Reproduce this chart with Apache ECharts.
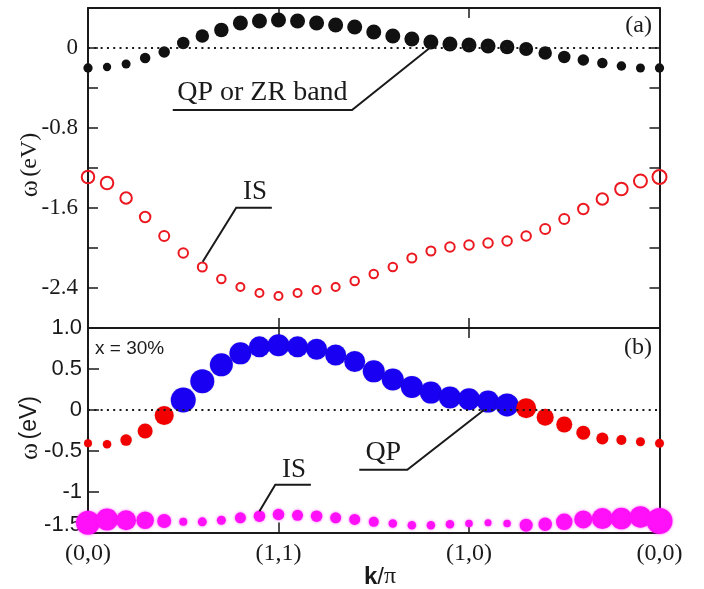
<!DOCTYPE html>
<html><head><meta charset="utf-8">
<script src="https://cdn.jsdelivr.net/npm/echarts@6/dist/echarts.min.js"></script>
<style>html,body{margin:0;padding:0;background:#fff}#c{width:704px;height:589px}</style>
</head><body><div id="c"></div>
<script>
// k-path sample index: (0,0) -> (1,1) -> (1,0) -> (0,0)
const kIndex = [0,1,2,3,4,5,6,7,8,9,10,11,12,13,14,15,16,17,18,19,20,21,22,23,24,25,26,27,28,29,30];
const kTickLabels = ['(0,0)','(1,1)','(1,0)','(0,0)'];
const kTickValues = [0,10,20,30];

// panel (a): QP / ZR band (filled black) and IS (open red)
const aQP = [-0.20,-0.19,-0.16,-0.10,-0.04,0.05,0.12,0.18,0.25,0.27,0.28,0.27,0.25,0.23,0.21,0.16,0.12,0.09,0.06,0.04,0.03,0.02,0.01,-0.01,-0.05,-0.09,-0.12,-0.15,-0.18,-0.20,-0.20];
const aQPWeight = [9.3,8.3,9,10.5,11.5,12.5,13.5,14.5,15,15,15,15,15,15,15,15,15,15,15,15,15,15,14.5,14,13.5,12.5,11.5,10.5,9.5,9,9.3];
const aIS = [-1.29,-1.35,-1.50,-1.69,-1.88,-2.05,-2.19,-2.31,-2.39,-2.45,-2.48,-2.45,-2.42,-2.39,-2.33,-2.26,-2.19,-2.10,-2.03,-1.99,-1.97,-1.95,-1.93,-1.88,-1.81,-1.71,-1.61,-1.51,-1.41,-1.33,-1.29];
const aISWeight = [14.5,14.5,13.5,12.5,12,11.5,11,10.5,10,10,10,10,10,10,10.5,10.5,10.5,11,11,11.5,11.5,11.5,11.5,11.5,12,12,12.5,13.5,14.5,15,16];

// panel (b): x = 30%
const bQP = [-0.41,-0.42,-0.37,-0.26,-0.07,0.12,0.35,0.55,0.69,0.77,0.79,0.77,0.74,0.67,0.59,0.47,0.37,0.28,0.21,0.15,0.13,0.10,0.06,0.02,-0.09,-0.18,-0.28,-0.35,-0.37,-0.39,-0.41];
const bQPWeight = [8,8.5,11.5,15,19,25,24,23,22,21,22,21,21,21,21,22,22,22,22,22,22,22,23,20,17,16,14,12,10,9,9];
const bQPChar = ['r','r','r','r','r','b','b','b','b','b','b','b','b','b','b','b','b','b','b','b','b','b','b','r','r','r','r','r','r','r','r'];
const bIS = [-1.38,-1.34,-1.35,-1.35,-1.36,-1.37,-1.37,-1.35,-1.32,-1.30,-1.28,-1.29,-1.30,-1.32,-1.34,-1.37,-1.39,-1.41,-1.41,-1.40,-1.39,-1.38,-1.39,-1.41,-1.40,-1.37,-1.34,-1.33,-1.33,-1.31,-1.36];
const bISWeight = [24,22,20,17.5,14,8,9,9,11,11.5,11.5,11,11.5,11,11,10,8.5,8.5,8.5,8.5,7.5,7,7.5,13,13.5,16.5,18,21,21.5,21.5,26];

const SERIF = '"Liberation Serif","Times New Roman",serif';
const SANS = '"Liberation Sans",Arial,sans-serif';
const INK = '#1a1a1a';

const chart = echarts.init(document.getElementById('c'), null, {renderer:'canvas'});

const axisLine = {show:true, onZero:false, lineStyle:{color:INK, width:2}};
function xAx(grid, pos, labels){
  return {type:'value', gridIndex:grid, position:pos, min:0, max:30, interval:10,
    axisLine, axisTick:{show:true, inside:true, length:10, lineStyle:{color:INK, width:1.5}},
    splitLine:{show:false},
    axisLabel: labels ? {show:true, margin:9, color:INK, fontFamily:SERIF, fontSize:24,
      formatter:v=>{const i=kTickValues.indexOf(v);return i>=0?kTickLabels[i]:'';}} : {show:false}};
}
const zeroLine = {silent:true, symbol:'none', label:{show:false},
  lineStyle:{type:[2,4.3], color:INK, width:2, opacity:1}, data:[{yAxis:0}]};

chart.setOption({
  animation:false,
  backgroundColor:'#fff',
  grid:[{left:88, right:44.5, top:8, height:320},
        {left:88, right:44.5, top:328, height:204.5}],
  xAxis:[xAx(0,'bottom',false), xAx(0,'top',false), xAx(1,'bottom',true), xAx(1,'top',false)],
  yAxis:[
    {type:'value', gridIndex:0, position:'left', min:-2.8, max:0.4, interval:0.4, axisLine,
     axisTick:{show:true, inside:true, length:10, lineStyle:{color:INK, width:1.5}}, splitLine:{show:false},
     axisLabel:{margin:10, color:INK, fontFamily:SERIF, fontSize:23,
       formatter:v=>{const t=Math.round(v*10); if(t>0||t%8!==0) return ''; return t===0?'0':v.toFixed(1);}}},
    {type:'value', gridIndex:0, position:'right', min:-2.8, max:0.4, interval:0.4, axisLine,
     axisTick:{show:true, inside:true, length:10, lineStyle:{color:INK, width:1.5}}, splitLine:{show:false},
     axisLabel:{show:false}},
    {type:'value', gridIndex:1, position:'left', min:-1.5, max:1.0, interval:0.5, axisLine,
     axisTick:{show:true, inside:true, length:11, lineStyle:{color:INK, width:1.5}}, splitLine:{show:false},
     axisLabel:{margin:6, color:INK, fontFamily:SANS, fontSize:22,
       rich:{up:{fontFamily:SANS, fontSize:22, color:INK, padding:[0,0,16,0]}},
       formatter:v=>{const t=Math.round(v*10); if(t===0) return '0'; if(t===10) return '1.0';
         if(t===-15) return '{up|-1.5}'; return (t%10===0)?String(t/10):v.toFixed(1);}}},
    {type:'value', gridIndex:1, position:'right', min:-1.5, max:1.0, interval:0.5, axisLine,
     axisTick:{show:false}, splitLine:{show:false}, axisLabel:{show:false}}
  ],
  series:[
    {type:'scatter', xAxisIndex:0, yAxisIndex:0, clip:false, z:3,
     data:kIndex.map((k,i)=>[k,aQP[i],aQPWeight[i]]), symbol:'circle',
     symbolSize:d=>d[2], itemStyle:{color:'#111', opacity:1}, markLine:zeroLine},
    {type:'scatter', xAxisIndex:0, yAxisIndex:0, clip:false, z:3,
     data:kIndex.map((k,i)=>[k,aIS[i],aISWeight[i]]), symbol:'circle',
     symbolSize:d=>d[2]-2, itemStyle:{color:'rgba(255,255,255,0)', borderColor:'#ec1820', borderWidth:2, opacity:1}},
    {type:'scatter', xAxisIndex:2, yAxisIndex:2, clip:false, z:3,
     data:kIndex.map((k,i)=>[k,bIS[i],bISWeight[i]]), symbol:'circle',
     symbolSize:d=>d[2], itemStyle:{color:'#ff10f8', opacity:1, shadowBlur:3, shadowColor:'rgba(255,0,255,0.6)'}},
    {type:'scatter', xAxisIndex:2, yAxisIndex:2, clip:false, z:4,
     data:kIndex.map((k,i)=>[k,bQP[i],bQPWeight[i]]), symbol:'circle',
     symbolSize:d=>d[2],
     itemStyle:{color:p=>bQPChar[p.dataIndex]==='b'?'#1a00f2':'#f20000', opacity:1, shadowBlur:2, shadowColor:'rgba(0,0,0,0.15)'},
     markLine:zeroLine}
  ]
});

// annotations, anchored in data coordinates
function px(grid, x, y){ return chart.convertToPixel({gridIndex:grid}, [x, y]); }
function leader(points){ return {type:'polyline', z:10, silent:true, shape:{points}, style:{stroke:INK, lineWidth:2, fill:null}}; }
function txt(x, y, text, font, align){ return {type:'text', z:10, silent:true, x, y,
  style:{text, font, fill:INK, align:align||'center', verticalAlign:'middle', textAlign:align||'center', textVerticalAlign:'middle'}}; }

const g = [];
// (a) QP or ZR band
{ const u0=px(0,4.45,-0.62), u1=px(0,13.86,-0.62), t=px(0,18,0.01);
  g.push(leader([u0,u1,t]));
  g.push(txt((u0[0]+u1[0])/2, u0[1]-17, 'QP or ZR band', '28px '+SERIF)); }
// (a) IS
{ const u1=px(0,9.65,-1.597), u0=px(0,7.78,-1.597), t=px(0,6.02,-2.137);
  g.push(leader([u1,u0,t]));
  g.push(txt((u0[0]+u1[0])/2+1, u0[1]-16, 'IS', '27px '+SERIF)); }
// (b) QP
{ const u0=px(1,14.24,-0.732), u1=px(1,16.76,-0.732), t=px(1,20.8,0);
  g.push(leader([u0,u1,t]));
  g.push(txt((u0[0]+u1[0])/2, u0[1]-17, 'QP', '28px '+SERIF)); }
// (b) IS
{ const u1=px(1,11.70,-0.915), u0=px(1,9.83,-0.915), t=px(1,9.0,-1.24);
  g.push(leader([u1,u0,t]));
  g.push(txt((u0[0]+u1[0])/2+1, u0[1]-15, 'IS', '27px '+SERIF)); }

g.push(txt(652, 26, '(a)', '24px '+SERIF, 'right'));
g.push(txt(652, 348, '(b)', '24px '+SERIF, 'right'));
g.push(txt(95, 349, 'x = 30%', '19px '+SANS, 'left'));

// axis titles
g.push({type:'text', z:10, silent:true, x:30, y:165, rotation:Math.PI/2,
  style:{text:'{a|ω} {b|(eV)}', align:'center', verticalAlign:'middle', textAlign:'center', textVerticalAlign:'middle',
    rich:{a:{font:'26px '+SERIF, fill:INK, color:INK}, b:{font:'24px '+SERIF, fill:INK, color:INK}}}});
g.push({type:'text', z:10, silent:true, x:30, y:428, rotation:Math.PI/2,
  style:{text:'{a|ω} {b|(eV)}', align:'center', verticalAlign:'middle', textAlign:'center', textVerticalAlign:'middle',
    rich:{a:{font:'26px '+SERIF, fill:INK, color:INK}, b:{font:'23px '+SANS, fill:INK, color:INK}}}});
g.push({type:'text', z:10, silent:true, x:380, y:577,
  style:{text:'{k|k}{s|/}{p|π}', align:'center', verticalAlign:'middle', textAlign:'center', textVerticalAlign:'middle',
    rich:{k:{font:'bold 24px '+SANS, fill:INK, color:INK}, s:{font:'24px '+SANS, fill:INK, color:INK}, p:{font:'24px '+SERIF, fill:INK, color:INK}}}});

chart.setOption({graphic:g});
</script>
</body></html>
